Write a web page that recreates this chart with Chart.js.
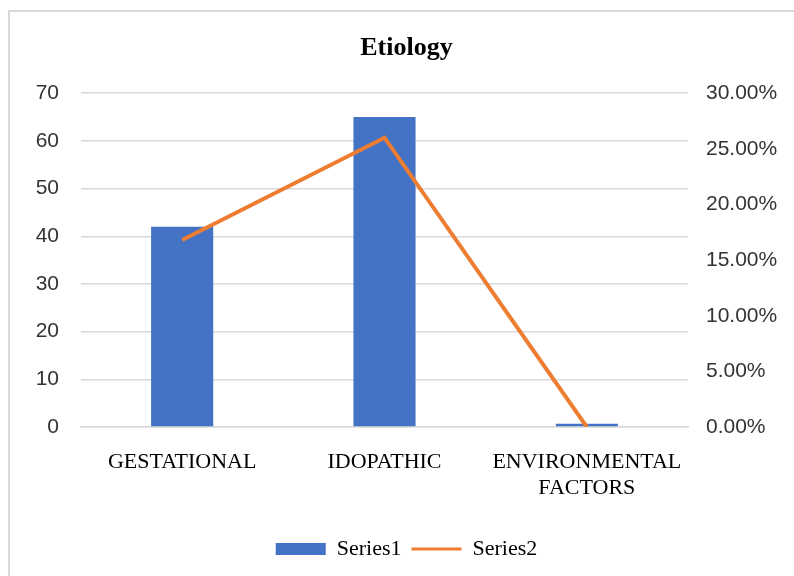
<!DOCTYPE html>
<html lang="en">
  <head>
    <meta charset="UTF-8" />
    <title>Etiology</title>
    <script src="https://cdn.jsdelivr.net/npm/chart.js@4/dist/chart.umd.min.js"></script>
    <style>
      html, body { margin: 0; padding: 0; background: #fff; }
    </style>
  </head>
  <body>
    <canvas id="chart" width="794" height="576"></canvas>

    <script>
      // Chart data
      const categories = ["GESTATIONAL", "IDOPATHIC", ["ENVIRONMENTAL", "FACTORS"]];
      const series1 = [42, 65, 0.7];
      const series2 = [16.8, 26, 0]; // percent
      const leftTicks = [0, 10, 20, 30, 40, 50, 60, 70];
      const rightTicks = [0, 5, 10, 15, 20, 25, 30];

      const blue = "#4472C4";
      const orange = "#ED7D31";
      const gridColor = "#d9d9d9";

      // light frame on the top / left edges like the original
      const framePlugin = {
        id: "frame",
        afterDraw(chart) {
          const c = chart.ctx;
          c.save();
          c.strokeStyle = gridColor;
          c.lineWidth = 2;
          c.beginPath();
          c.moveTo(9, 576);
          c.lineTo(9, 11);
          c.lineTo(794, 11);
          c.stroke();
          c.restore();
        },
      };

      new Chart(document.getElementById("chart"), {
        type: "bar",
        data: {
          labels: categories,
          datasets: [
            {
              label: "Series1",
              data: series1,
              backgroundColor: blue,
              yAxisID: "y",
              categoryPercentage: 1,
              barPercentage: 0.307,
              order: 1,
            },
            {
              type: "line",
              label: "Series2",
              data: series2,
              borderColor: orange,
              backgroundColor: orange,
              borderWidth: 4,
              pointRadius: 0,
              tension: 0,
              yAxisID: "y1",
              order: 0,
            },
          ],
        },
        plugins: [framePlugin],
        options: {
          responsive: false,
          animation: false,
          layout: { padding: { left: 36, right: 17, top: 0, bottom: 6 } },
          plugins: {
            title: {
              display: true,
              text: "Etiology",
              color: "#000",
              font: { family: "Liberation Serif", size: 26, weight: "bold" },
              padding: { top: 33, bottom: 29 },
            },
            legend: {
              position: "bottom",
              labels: {
                color: "#000",
                font: { family: "Liberation Serif", size: 22 },
                usePointStyle: true,
                pointStyleWidth: 50,
                boxHeight: 12,
                padding: 10,
                generateLabels(chart) {
                  return chart.data.datasets.map((ds, i) => ({
                    text: ds.label,
                    fillStyle: ds.type === "line" ? "rgba(0,0,0,0)" : blue,
                    strokeStyle: ds.type === "line" ? orange : blue,
                    lineWidth: ds.type === "line" ? 3 : 0,
                    pointStyle: ds.type === "line" ? "line" : "rect",
                    datasetIndex: i,
                    hidden: false,
                    fontColor: "#000",
                  }));
                },
              },
            },
            tooltip: { enabled: false },
          },
          scales: {
            x: {
              grid: { display: false, drawTicks: false },
              border: { color: gridColor, width: 1.5 },
              ticks: {
                color: "#000",
                padding: 23,
                maxRotation: 0,
                autoSkip: false,
                font: { family: "Liberation Serif", size: 22, lineHeight: 1.15 },
              },
              afterFit(scale) {
                scale.height = 101;
                scale.paddingLeft = 0;
                scale.paddingRight = 0;
              },
            },
            y: {
              position: "left",
              min: 0,
              max: 70,
              afterBuildTicks(scale) {
                scale.ticks = leftTicks.map((v) => ({ value: v }));
              },
              afterFit(scale) {
                scale.width = 45;
              },
              grid: { color: gridColor, lineWidth: 1.5, drawTicks: false },
              border: { display: false },
              ticks: {
                color: "#333",
                padding: 22,
                font: { family: "Liberation Sans", size: 21 },
              },
            },
            y1: {
              position: "right",
              min: 0,
              max: 30,
              afterBuildTicks(scale) {
                scale.ticks = rightTicks.map((v) => ({ value: v }));
              },
              afterFit(scale) {
                scale.width = 89;
              },
              grid: { display: false, drawTicks: false },
              border: { display: false },
              ticks: {
                color: "#333",
                padding: 18,
                font: { family: "Liberation Sans", size: 21 },
                callback: (v) => Number(v).toFixed(2) + "%",
              },
            },
          },
        },
      });
    </script>
  </body>
</html>
